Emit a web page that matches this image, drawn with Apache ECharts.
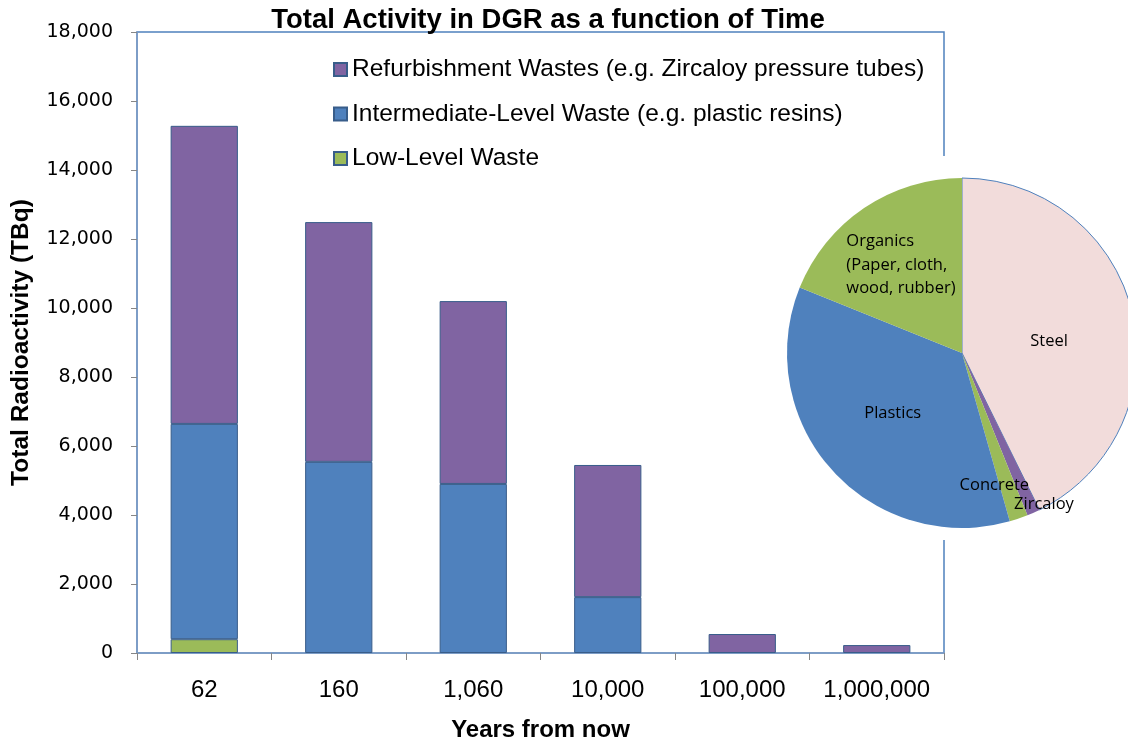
<!DOCTYPE html>
<html>
<head>
<meta charset="utf-8">
<script src="https://cdn.jsdelivr.net/npm/echarts@6/dist/echarts.min.js"></script>
<style>
  html, body { margin: 0; padding: 0; background: #fff; }
  #chart { width: 1128px; height: 742px; }
</style>
</head>
<body>
<div id="chart"></div>
<script>
// Years from now (category axis)
const years = ['62', '160', '1,060', '10,000', '100,000', '1,000,000'];

// Radioactivity (TBq) by waste stream, stacked bottom to top
const lowLevel = [400, null, null, null, null, null];
const intermediate = [6240, 5540, 4900, 1620, null, null];
const refurbishment = [8640, 6950, 5300, 3830, 550, 230];

const seriesNames = [
  'Low-Level Waste',
  'Intermediate-Level Waste (e.g. plastic resins)',
  'Refurbishment Wastes (e.g. Zircaloy pressure tubes)'
];

// Waste composition by material (%)
const materials = ['Steel', 'Zircaloy', 'Concrete', 'Plastics', 'Organics\n(Paper, cloth,\nwood, rubber)'];
const materialShare = [42.7, 1.2, 1.7, 35.5, 18.9];
const materialColors = ['#f2dcdb', '#8064a2', '#9bbb59', '#4f81bd', '#9bbb59'];

// label nudges inside the pie, per slice
const pieLabelShift = [
  { dx: -1, dy: 9 },
  { dx: 45, dy: 69 },
  { dx: 3, dy: 47 },
  { dx: -2, dy: 0 },
  { dx: -65, dy: -13, align: 'left' }
];

const barColors = ['#9bbb59', '#4f81bd', '#8064a2'];
const barData = [lowLevel, intermediate, refurbishment];

const chart = echarts.init(document.getElementById('chart'), null, { renderer: 'canvas' });

const barSeries = barData.map((vals, i) => ({
  name: seriesNames[i],
  type: 'bar',
  stack: 'total',
  data: vals,
  barWidth: '50%',
  itemStyle: { color: barColors[i], borderColor: '#385d8a', borderWidth: 1 },
  emphasis: { disabled: true }
}));

chart.setOption({
  animation: false,
  backgroundColor: '#ffffff',
  title: {
    text: 'Total Activity in DGR as a function of Time',
    left: 543,
    textAlign: 'center',
    top: 1,
    textStyle: { fontFamily: 'Liberation Sans', fontWeight: 'bold', fontSize: 27.5, color: '#000' }
  },
  legend: {
    orient: 'vertical',
    left: 333,
    top: 57,
    padding: 0,
    itemWidth: 13,
    itemHeight: 13,
    itemGap: 19.5,
    icon: 'rect',
    data: [seriesNames[2], seriesNames[1], seriesNames[0]],
    textStyle: { fontFamily: 'Liberation Sans', fontSize: 24.5, color: '#000', lineHeight: 24 },
    selectedMode: false
  },
  grid: {
    left: 137, right: 184, top: 32, bottom: 89,
    outerBoundsMode: 'none',
    containLabel: false,
    show: true, borderColor: '#4f81bd', borderWidth: 1.5, backgroundColor: 'transparent'
  },
  xAxis: {
    type: 'category',
    data: years,
    name: 'Years from now',
    nameLocation: 'middle',
    nameGap: 65,
    nameTextStyle: { fontFamily: 'Liberation Sans', fontWeight: 'bold', fontSize: 24, color: '#000' },
    axisLine: { show: true, lineStyle: { color: '#7f9cc4', width: 1.5 } },
    axisTick: { show: true, interval: 0, length: 7, lineStyle: { color: '#868686' } },
    axisLabel: { interval: 0, margin: 25, fontFamily: 'Liberation Sans', fontSize: 24, color: '#000' }
  },
  yAxis: {
    type: 'value',
    min: 0, max: 18000, interval: 2000,
    name: 'Total Radioactivity (TBq)',
    nameLocation: 'middle',
    nameGap: 103,
    nameTextStyle: { fontFamily: 'Liberation Sans', fontWeight: 'bold', fontSize: 24.5, color: '#000' },
    axisLine: { show: true, lineStyle: { color: '#7f9cc4', width: 1.5 } },
    axisTick: { show: true, length: 6, lineStyle: { color: '#868686' } },
    splitLine: { show: false },
    axisLabel: {
      margin: 24, fontFamily: 'DejaVu Sans', fontSize: 19, color: '#000',
      formatter: v => v.toLocaleString('en-US')
    }
  },
  graphic: [{
    type: 'rect',
    z: 1,
    shape: { x: 776, y: 156, width: 352, height: 384 },
    style: { fill: '#ffffff' }
  }],
  series: [
    ...barSeries,
    {
      type: 'pie',
      z: 5,
      center: [962, 353],
      radius: 175,
      startAngle: 90,
      clockwise: true,
      silent: true,
      data: materials.map((m, i) => ({
        name: m,
        value: materialShare[i],
        itemStyle: i === 0
          ? { color: materialColors[i], borderColor: '#4f81bd', borderWidth: 1 }
          : { color: materialColors[i], borderWidth: 0 }
      })),
      label: {
        show: true,
        position: 'inside',
        formatter: '{b}',
        fontFamily: 'Open Sans',
        fontSize: 16.5,
        lineHeight: 23.5,
        color: '#000'
      },
      labelLine: { show: false },
      labelLayout: p => pieLabelShift[p.dataIndex]
    }
  ]
});
</script>
</body>
</html>
